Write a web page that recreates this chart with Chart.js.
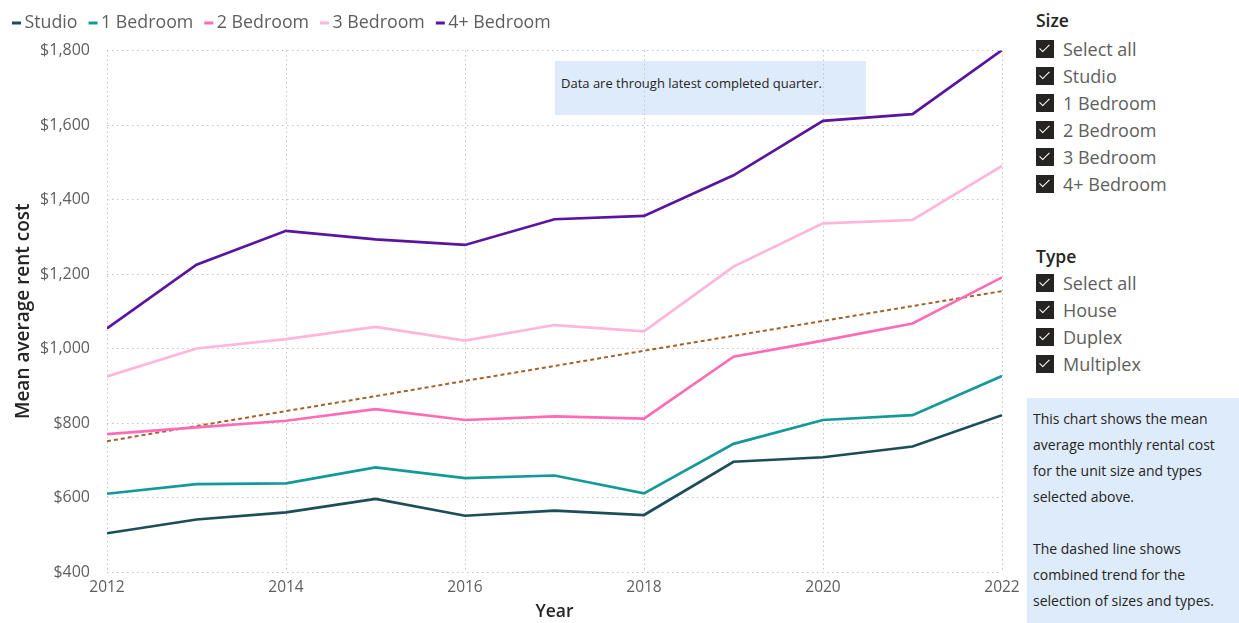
<!DOCTYPE html>
<html>
<head>
<meta charset="utf-8">
<script src="https://cdn.jsdelivr.net/npm/chart.js@4.4.1/dist/chart.umd.min.js"></script>
<style>
  html, body { margin:0; padding:0; background:#fff; width:1239px; height:623px; overflow:hidden; font-family:"Open Sans","Noto Sans",sans-serif; }
  #wrap { position:absolute; left:0; top:0; width:1027px; height:623px; }
  #note { position:absolute; left:555px; top:61px; width:311px; height:54px; background:#deebfb; color:#252423; font-size:13px; box-sizing:border-box; padding:13px 0 0 6px; z-index:0; }
  canvas { position:relative; z-index:1; }
  .hdr { position:absolute; left:1036px; font-size:17.5px; font-weight:600; color:#252423; line-height:24px; }
  .item { position:absolute; left:1036px; font-size:18px; color:#605e5c; line-height:24px; height:24px; white-space:nowrap; }
  .box { display:inline-block; width:18px; height:18px; background:#252423; vertical-align:top; margin-top:3px; margin-right:9px; position:relative; }
  .box::after { content:""; position:absolute; left:6px; top:2px; width:4px; height:9px; border:solid #fff; border-width:0 1.6px 1.6px 0; transform:rotate(45deg); }
  #info { position:absolute; left:1027px; top:398px; width:212px; height:225px; background:#deebfb; color:#252423; font-size:14px; line-height:26px; box-sizing:border-box; padding:8px 0 0 6px; }
</style>
</head>
<body>
<div id="wrap">
  <div id="note">Data are through latest completed quarter.</div>
  <canvas id="c" width="1027" height="623"></canvas>
</div>
<div class="hdr" style="top:8px">Size</div>
<div class="item" style="top:37px"><span class="box"></span>Select all</div>
<div class="item" style="top:64px"><span class="box"></span>Studio</div>
<div class="item" style="top:91px"><span class="box"></span>1 Bedroom</div>
<div class="item" style="top:118px"><span class="box"></span>2 Bedroom</div>
<div class="item" style="top:145px"><span class="box"></span>3 Bedroom</div>
<div class="item" style="top:172px"><span class="box"></span>4+ Bedroom</div>
<div class="hdr" style="top:244px">Type</div>
<div class="item" style="top:271px"><span class="box"></span>Select all</div>
<div class="item" style="top:298px"><span class="box"></span>House</div>
<div class="item" style="top:325px"><span class="box"></span>Duplex</div>
<div class="item" style="top:352px"><span class="box"></span>Multiplex</div>
<div id="info">This chart shows the mean<br>average monthly rental cost<br>for the unit size and types<br>selected above.<br><br>The dashed line shows<br>combined trend for the<br>selection of sizes and types.</div>
<script>
const years = [2012, 2013, 2014, 2015, 2016, 2017, 2018, 2019, 2020, 2021, 2022];
const seriesNames = ["Studio", "1 Bedroom", "2 Bedroom", "3 Bedroom", "4+ Bedroom"];
const studio   = [504, 541, 560, 596, 551, 565, 553, 696, 708, 737, 821];
const oneBed   = [610, 636, 638, 681, 652, 659, 611, 744, 808, 821, 926];
const twoBed   = [770, 788, 806, 837, 808, 818, 812, 978, 1021, 1067, 1191];
const threeBed = [925, 1000, 1025, 1058, 1021, 1063, 1046, 1220, 1336, 1345, 1490];
const fourBed  = [1054, 1225, 1316, 1293, 1278, 1347, 1356, 1465, 1611, 1629, 1801];
const trend    = [751, 792, 832, 872, 913, 953, 994, 1034, 1074, 1114, 1154];
const yTicks   = [400, 600, 800, 1000, 1200, 1400, 1600, 1800];
const xTicks   = [2012, 2014, 2016, 2018, 2020, 2022];

const colors = ["#1b4e58", "#14999a", "#ff6cb5", "#ffb6da", "#5b149f"];
const trendColor = "#a6612b";
const FONT = '"Open Sans","Noto Sans",sans-serif';

const pts = arr => years.map((y, i) => ({x: y, y: arr[i]}));
const allSeries = [studio, oneBed, twoBed, threeBed, fourBed];

const datasets = allSeries.map((arr, i) => ({
  label: seriesNames[i], data: pts(arr), borderColor: colors[i], backgroundColor: colors[i],
  borderWidth: 2.7, pointRadius: 0, tension: 0, order: 5 - i
}));
datasets.push({
  label: "Trend", data: pts(trend), borderColor: trendColor, backgroundColor: trendColor,
  borderWidth: 2, borderDash: [4, 3], pointRadius: 0, tension: 0, order: 10
});

const legendPlugin = {
  id: "customLegend",
  afterDraw(chart) {
    const ctx = chart.ctx;
    ctx.save();
    ctx.font = "17.8px " + FONT;
    ctx.textBaseline = "middle";
    let x = 12;
    const y = 23;
    seriesNames.forEach((name, i) => {
      ctx.fillStyle = colors[i];
      ctx.fillRect(x, y - 1.5, 9, 3);
      x += 12.5;
      ctx.fillStyle = "#605e5c";
      ctx.fillText(name, x, y);
      x += ctx.measureText(name).width + 11;
    });
    ctx.restore();
  }
};

new Chart(document.getElementById("c"), {
  type: "line",
  data: { datasets },
  options: {
    responsive: false, animation: false,
    layout: { padding: { top: 50.5, right: 25, bottom: 0, left: 0 } },
    plugins: { legend: { display: false }, tooltip: { enabled: false } },
    scales: {
      x: {
        type: "linear", min: 2012, max: 2022,
        afterBuildTicks: s => { s.ticks = xTicks.map(v => ({value: v})); },
        afterFit: s => { s.height = 51; },
        grid: { color: "#c8c6c4", lineWidth: 1, drawTicks: false },
        border: { display: false, dash: [1.5, 3] },
        ticks: { color: "#605e5c", font: { family: FONT, size: 15.5 }, padding: 6, callback: v => String(v), maxRotation: 0 },
        title: { display: true, text: "Year", color: "#252423", font: { family: FONT, size: 17.5, weight: "600" }, padding: { top: 0, bottom: 0 } }
      },
      y: {
        min: 400, max: 1800,
        afterBuildTicks: s => { s.ticks = yTicks.map(v => ({value: v})); },
        afterFit: s => { s.width = 107; },
        grid: { color: "#c8c6c4", lineWidth: 1, drawTicks: false },
        border: { display: false, dash: [1.5, 3.5] },
        ticks: { color: "#605e5c", font: { family: FONT, size: 16 }, padding: 17, callback: v => "$" + v.toLocaleString("en-US") },
        title: { display: true, text: "Mean average rent cost", color: "#252423", font: { family: FONT, size: 19, weight: "600" }, padding: { top: 12, bottom: 0 } }
      }
    }
  },
  plugins: [legendPlugin]
});
</script>
</body>
</html>
